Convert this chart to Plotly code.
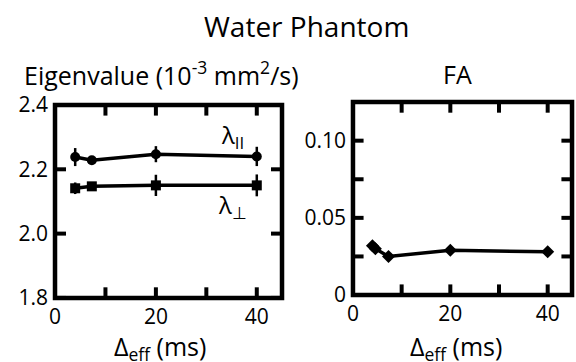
import plotly.graph_objects as go

delta = [4, 7.3, 20, 40]
lam_par = [2.238, 2.228, 2.247, 2.240]
lam_par_err = [0.028, 0.008, 0.025, 0.03]
lam_perp = [2.141, 2.147, 2.150, 2.150]
lam_perp_err = [0.018, 0.01, 0.033, 0.034]

fa_delta = [4, 4.6, 7.3, 20, 40]
fa = [0.032, 0.030, 0.025, 0.029, 0.028]
fa_err = [0.003, 0.0, 0.002, 0.002, 0.002]

x_range = [0, 45]
x_ticks = [0, 10, 20, 30, 40]
x_ticktext = ["0", "", "20", "", "40"]
eig_range = [1.8, 2.4]
eig_ticks = [1.8, 2.0, 2.2, 2.4]
eig_ticktext = ["1.8", "2.0", "2.2", "2.4"]
fa_range = [0, 0.125]
fa_ticks = [0, 0.025, 0.05, 0.075, 0.1]
fa_ticktext = ["0", "", "0.05", "", "0.10"]

FONT = "Open Sans"
fig = go.Figure()

def add(x, y, e, sym, xa, ya):
    fig.add_trace(go.Scatter(
        x=x, y=y, mode="lines+markers", xaxis=xa, yaxis=ya,
        line=dict(color="black", width=3.5),
        marker=dict(symbol=sym, size=10, color="black"),
        error_y=dict(type="data", array=e, color="black", thickness=2.5, width=0),
        showlegend=False))

add(delta, lam_par, lam_par_err, "circle", "x", "y")
add(delta, lam_perp, lam_perp_err, "square", "x", "y")
add(fa_delta, fa, fa_err, "diamond", "x2", "y2")

# inside tick marks on all four sides, drawn as short line segments
TICK_FRAC = 0.055  # tick length as a fraction of the axis span
def tick_marks(xa, ya, xr, yr, xt, yt):
    ly = (yr[1] - yr[0]) * TICK_FRAC
    lx = (xr[1] - xr[0]) * TICK_FRAC * 0.88
    xs, ys = [], []
    for v in xt:
        xs += [v, v, None, v, v, None]
        ys += [yr[0], yr[0] + ly, None, yr[1], yr[1] - ly, None]
    for v in yt:
        xs += [xr[0], xr[0] + lx, None, xr[1], xr[1] - lx, None]
        ys += [v, v, None, v, v, None]
    fig.add_trace(go.Scatter(x=xs, y=ys, mode="lines", xaxis=xa, yaxis=ya,
                             line=dict(color="black", width=4), connectgaps=False,
                             showlegend=False, hoverinfo="skip"))

tick_marks("x", "y", x_range, eig_range, x_ticks, eig_ticks)
tick_marks("x2", "y2", x_range, fa_range, x_ticks, fa_ticks)

axcommon = dict(showline=False, ticks="", showgrid=False, zeroline=False,
                automargin=False, tickfont=dict(family=FONT, size=21, color="black"))

fig.update_layout(
    width=576, height=362, margin=dict(l=0, r=0, t=0, b=0, pad=0),
    paper_bgcolor="white", plot_bgcolor="white",
    xaxis=dict(domain=[0.0955, 0.4896], range=x_range, anchor="y", ticklabelstandoff=4,
               tickvals=x_ticks, ticktext=x_ticktext, **axcommon),
    yaxis=dict(domain=[0.177, 0.710], range=eig_range, anchor="x", ticklabelstandoff=6,
               tickvals=eig_ticks, ticktext=eig_ticktext, **axcommon),
    xaxis2=dict(domain=[0.6128, 0.9931], range=x_range, anchor="y2", ticklabelstandoff=4,
                tickvals=x_ticks, ticktext=x_ticktext, **axcommon),
    yaxis2=dict(domain=[0.185, 0.718], range=fa_range, anchor="x2", ticklabelstandoff=6,
                tickvals=fa_ticks, ticktext=fa_ticktext, **axcommon),
)

for xd, yd in (("x domain", "y domain"), ("x2 domain", "y2 domain")):
    fig.add_shape(type="rect", xref=xd, yref=yd, x0=0, x1=1, y0=0, y1=1,
                  line=dict(color="black", width=4.5), layer="above")

def ann(text, x, y, size, xanchor="center", yanchor="middle"):
    fig.add_annotation(text=text, x=x, y=y, xref="paper", yref="paper",
                       xanchor=xanchor, yanchor=yanchor, showarrow=False,
                       font=dict(family=FONT, size=size, color="black"))

ann("Water Phantom", 306/576, 1 - 26/362, 28)
ann("Eigenvalue (10<sup>-3</sup> mm<sup>2</sup>/s)", 22/576, 1 - 73/362, 25, "left")
ann("FA", 457/576, 1 - 74/362, 25)
ann("Δ<sub>eff</sub> (ms)", 160/576, 1 - 347/362, 25)
ann("Δ<sub>eff</sub> (ms)", 456/576, 1 - 347/362, 25)
fig.add_annotation(text="λ<sub>II</sub>", x=35.2, y=2.304, xref="x", yref="y", showarrow=False,
                   font=dict(family=FONT, size=24, color="black"))
fig.add_annotation(text="λ<sub>⊥</sub>", x=35.2, y=2.086, xref="x", yref="y", showarrow=False,
                   font=dict(family=FONT, size=24, color="black"))

fig.write_html("out.html")
